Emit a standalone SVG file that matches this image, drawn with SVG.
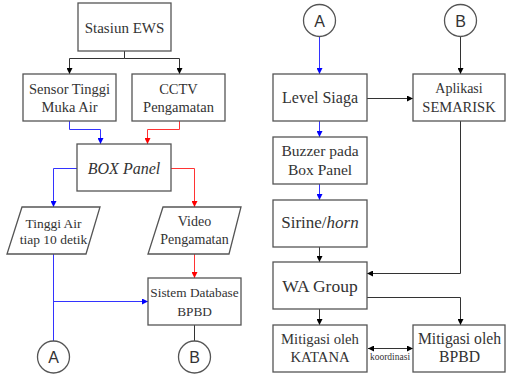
<svg xmlns="http://www.w3.org/2000/svg" width="506" height="374" viewBox="0 0 506 374">
<defs>
<style>
.box{fill:#fff;stroke:#555;stroke-width:1.3}
.t{font-family:'Liberation Serif','Times New Roman',Times,serif;fill:#333;text-anchor:middle}
.c{font-family:'Liberation Sans',Arial,sans-serif;fill:#333;text-anchor:middle;font-size:16px}
.k{fill:none;stroke:#333;stroke-width:1}
.b{fill:none;stroke:#3333ff;stroke-width:1}
.r{fill:none;stroke:#ff3333;stroke-width:1}
</style>
<marker id="ak" viewBox="0 0 10 10" refX="10" refY="5" markerWidth="6" markerHeight="6" orient="auto" markerUnits="userSpaceOnUse"><path d="M0,0L10,5L0,10z" fill="#000"/></marker>
<marker id="aks" viewBox="0 0 10 10" refX="0" refY="5" markerWidth="6" markerHeight="6" orient="auto" markerUnits="userSpaceOnUse"><path d="M10,0L0,5L10,10z" fill="#000"/></marker>
<marker id="ab" viewBox="0 0 10 10" refX="10" refY="5" markerWidth="6" markerHeight="6" orient="auto" markerUnits="userSpaceOnUse"><path d="M0,0L10,5L0,10z" fill="#0000ff"/></marker>
<marker id="ar" viewBox="0 0 10 10" refX="10" refY="5" markerWidth="6" markerHeight="6" orient="auto" markerUnits="userSpaceOnUse"><path d="M0,0L10,5L0,10z" fill="#ff0000"/></marker>
</defs>
<rect width="506" height="374" fill="#fff"/>
<g id="connectors">
<path class="k" d="M124.5,51V58.5H69.5V74" marker-end="url(#ak)"/>
<path class="k" d="M124.5,58.5H179.5V74" marker-end="url(#ak)"/>
<path class="b" d="M69.5,121V129.5H100.5V144" marker-end="url(#ab)"/>
<path class="r" d="M179.5,121V129.5H147.5V144" marker-end="url(#ar)"/>
<path class="b" d="M77,168.5H53.5V207" marker-end="url(#ab)"/>
<path class="r" d="M171,168.5H194.5V207" marker-end="url(#ar)"/>
<path class="r" d="M194.5,254V278" marker-end="url(#ar)"/>
<path class="b" d="M53.5,254V341"/>
<path class="b" d="M53.5,301.5H148" marker-end="url(#ab)"/>
<path class="k" d="M194.5,325V341"/>
<path class="b" d="M319.5,36V74" marker-end="url(#ab)"/>
<path class="k" d="M460.5,36V74" marker-end="url(#ak)"/>
<path class="k" d="M367,98.5H413" marker-end="url(#ak)"/>
<path class="b" d="M319.5,121V137" marker-end="url(#ab)"/>
<path class="b" d="M319.5,184V200" marker-end="url(#ab)"/>
<path class="k" d="M319.5,247V262" marker-end="url(#ak)"/>
<path class="k" d="M460.5,121V273.5H367" marker-end="url(#ak)"/>
<path class="k" d="M367,297.5H460.5V325" marker-end="url(#ak)"/>
<path class="k" d="M319.5,309V325" marker-end="url(#ak)"/>
<path class="k" d="M368,348.5H413" marker-start="url(#aks)" marker-end="url(#ak)"/>
<text class="t" x="390" y="360" font-size="9.5">koordinasi</text>
</g>
<g id="stasiun"><rect class="box" x="78" y="3" width="93" height="48"/><text class="t" x="124.5" y="33" font-size="15">Stasiun EWS</text></g>
<g id="sensor"><rect class="box" x="23" y="74" width="93" height="47"/><text class="t" x="69.5" y="94" font-size="14.5">Sensor Tinggi</text><text class="t" x="69.5" y="112" font-size="14.5">Muka Air</text></g>
<g id="cctv"><rect class="box" x="132" y="74" width="93" height="47"/><text class="t" x="178.5" y="94" font-size="14.5">CCTV</text><text class="t" x="178.5" y="112" font-size="14.5">Pengamatan</text></g>
<g id="boxpanel"><rect class="box" x="77" y="144" width="94" height="47"/><text class="t" x="124" y="174" font-size="16" font-style="italic">BOX Panel</text></g>
<g id="tinggiair"><polygon class="box" points="22,207 100,207 86,254 7,254"/><text class="t" x="53.5" y="228" font-size="13.5">Tinggi Air</text><text class="t" x="53.5" y="244" font-size="13.5">tiap 10 detik</text></g>
<g id="video"><polygon class="box" points="163,207 241,207 229,254 148,254"/><text class="t" x="194.5" y="226" font-size="14">Video</text><text class="t" x="194.5" y="244" font-size="14">Pengamatan</text></g>
<g id="database"><rect class="box" x="148" y="278" width="93" height="47"/><text class="t" x="194.5" y="297" font-size="13.3">Sistem Database</text><text class="t" x="194.5" y="316" font-size="13.3">BPBD</text></g>
<g id="circleA1"><circle class="box" cx="53.5" cy="357" r="16"/><text class="c" x="53.5" y="363">A</text></g>
<g id="circleB1"><circle class="box" cx="194.5" cy="357" r="16"/><text class="c" x="194.5" y="363">B</text></g>
<g id="circleA2"><circle class="box" cx="319.5" cy="20.5" r="16"/><text class="c" x="319.5" y="26.5">A</text></g>
<g id="circleB2"><circle class="box" cx="460.5" cy="20.5" r="16"/><text class="c" x="460.5" y="26.5">B</text></g>
<g id="level"><rect class="box" x="273" y="74" width="94" height="47"/><text class="t" x="320" y="103" font-size="16">Level Siaga</text></g>
<g id="aplikasi"><rect class="box" x="413" y="74" width="92" height="47"/><text class="t" x="459" y="93" font-size="14">Aplikasi</text><text class="t" x="459" y="112" font-size="14.5">SEMARISK</text></g>
<g id="buzzer"><rect class="box" x="273" y="137" width="94" height="47"/><text class="t" x="320" y="156" font-size="15.5">Buzzer pada</text><text class="t" x="320" y="175" font-size="15.5">Box Panel</text></g>
<g id="sirine"><rect class="box" x="273" y="200" width="94" height="47"/><text class="t" x="320" y="228" font-size="17">Sirine/<tspan font-style="italic">horn</tspan></text></g>
<g id="wagroup"><rect class="box" x="273" y="262" width="94" height="47"/><text class="t" x="320" y="292" font-size="17.5">WA Group</text></g>
<g id="katana"><rect class="box" x="273" y="325" width="94" height="47"/><text class="t" x="320" y="344" font-size="14.7">Mitigasi oleh</text><text class="t" x="320" y="362" font-size="14.7">KATANA</text></g>
<g id="bpbd"><rect class="box" x="413" y="325" width="92" height="47"/><text class="t" x="459.5" y="344" font-size="15.7">Mitigasi oleh</text><text class="t" x="459.5" y="362" font-size="15.7">BPBD</text></g>
</svg>
